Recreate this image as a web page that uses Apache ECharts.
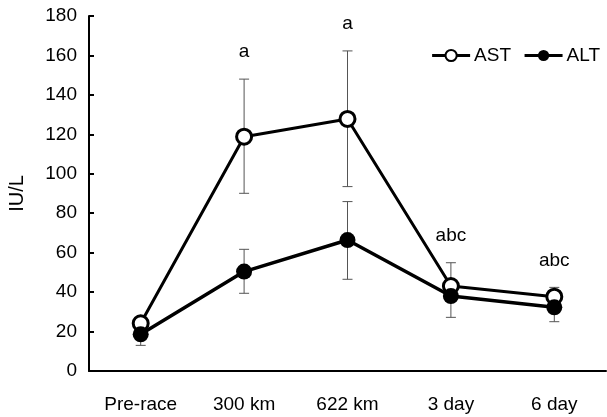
<!DOCTYPE html>
<html><head><meta charset="utf-8">
<script src="https://cdn.jsdelivr.net/npm/echarts@6/dist/echarts.min.js"></script>
<style>html,body{margin:0;padding:0;background:#fff}#c{width:607px;height:417px}</style>
</head><body><div id="c"></div>
<script>
const categories = ['Pre-race', '300 km', '622 km', '3 day', '6 day'];
const astMean = [24.2, 118.8, 127.8, 43.1, 37.7];
const astUpper = [27, 148, 162.3, 54.9, 42.4];
const astLower = [22, 90.1, 93.5, 40, 35];
const altMean = [18.6, 50.4, 66.4, 38, 32.3];
const altUpper = [20, 61.7, 85.9, 40, 34];
const altLower = [13, 39.4, 46.5, 27.2, 25];
const annotations = ['', 'a', 'a', 'abc', 'abc'];

const FONT = 'Liberation Sans, Arial, sans-serif';
const chart = echarts.init(document.getElementById('c'));

function errData(up, lo) { return categories.map((c, i) => [i, lo[i], up[i]]); }
function errRender(params, api) {
  const x = api.coord([api.value(0), 0])[0];
  const yl = api.coord([api.value(0), api.value(1)])[1];
  const yh = api.coord([api.value(0), api.value(2)])[1];
  const hw = 5;
  const st = { stroke: '#555', lineWidth: 1 };
  return { type: 'group', children: [
    { type: 'line', shape: { x1: x, y1: yl, x2: x, y2: yh }, style: st },
    { type: 'line', shape: { x1: x - hw, y1: yl, x2: x + hw, y2: yl }, style: st },
    { type: 'line', shape: { x1: x - hw, y1: yh, x2: x + hw, y2: yh }, style: st }
  ]};
}

chart.setOption({
  animation: false,
  grid: { left: 89, right: 1, top: 16, bottom: 46, containLabel: false, outerBoundsMode: 'none' },
  legend: {
    top: 41, right: 2, itemGap: 12, itemWidth: 38, itemHeight: 14,
    lineStyle: { width: 3, color: '#000' },
    textStyle: { fontFamily: FONT, fontSize: 19, color: '#000', padding: [0, 0, 0, -1] },
    data: ['AST', 'ALT']
  },
  xAxis: {
    type: 'category', data: categories, boundaryGap: true,
    axisLine: { lineStyle: { color: '#000', width: 2 } },
    axisTick: { show: false },
    axisLabel: { fontFamily: FONT, fontSize: 19, color: '#000', margin: 24 }
  },
  yAxis: {
    type: 'value', min: 0, max: 180, interval: 20,
    name: 'IU/L', nameLocation: 'middle', nameGap: 62, nameRotate: 90,
    nameTextStyle: { fontFamily: FONT, fontSize: 20, color: '#000' },
    axisLine: { show: true, lineStyle: { color: '#000', width: 2 } },
    axisTick: { show: true, inside: true, length: 5, lineStyle: { color: '#000', width: 2 } },
    axisLabel: { fontFamily: FONT, fontSize: 19, color: '#000', margin: 12 },
    splitLine: { show: false }
  },
  series: [
    { type: 'custom', name: 'astErr', data: errData(astUpper, astLower), renderItem: errRender, z: 1, silent: true },
    { type: 'custom', name: 'altErr', data: errData(altUpper, altLower), renderItem: errRender, z: 1, silent: true },
    {
      type: 'custom', name: 'ann', z: 5, silent: true,
      data: categories.map((c, i) => [i, astUpper[i], annotations[i]]),
      renderItem: function (params, api) {
        const p = api.coord([api.value(0), api.value(1)]);
        const t = annotations[params.dataIndex];
        return { type: 'text', style: { text: t, x: p[0], y: p[1] - 27, align: 'center', verticalAlign: 'middle', font: '19px ' + FONT, fill: '#000' } };
      }
    },
    {
      type: 'line', name: 'AST', data: astMean, z: 3,
      symbol: 'circle', symbolSize: 15,
      lineStyle: { color: '#000', width: 3 },
      itemStyle: { color: '#fff', borderColor: '#000', borderWidth: 3 }
    },
    {
      type: 'line', name: 'ALT', data: altMean, z: 3,
      symbol: 'circle', symbolSize: 16,
      lineStyle: { color: '#000', width: 3.5 },
      itemStyle: { color: '#000', borderColor: '#000', borderWidth: 0 }
    }
  ]
});
</script></body></html>
